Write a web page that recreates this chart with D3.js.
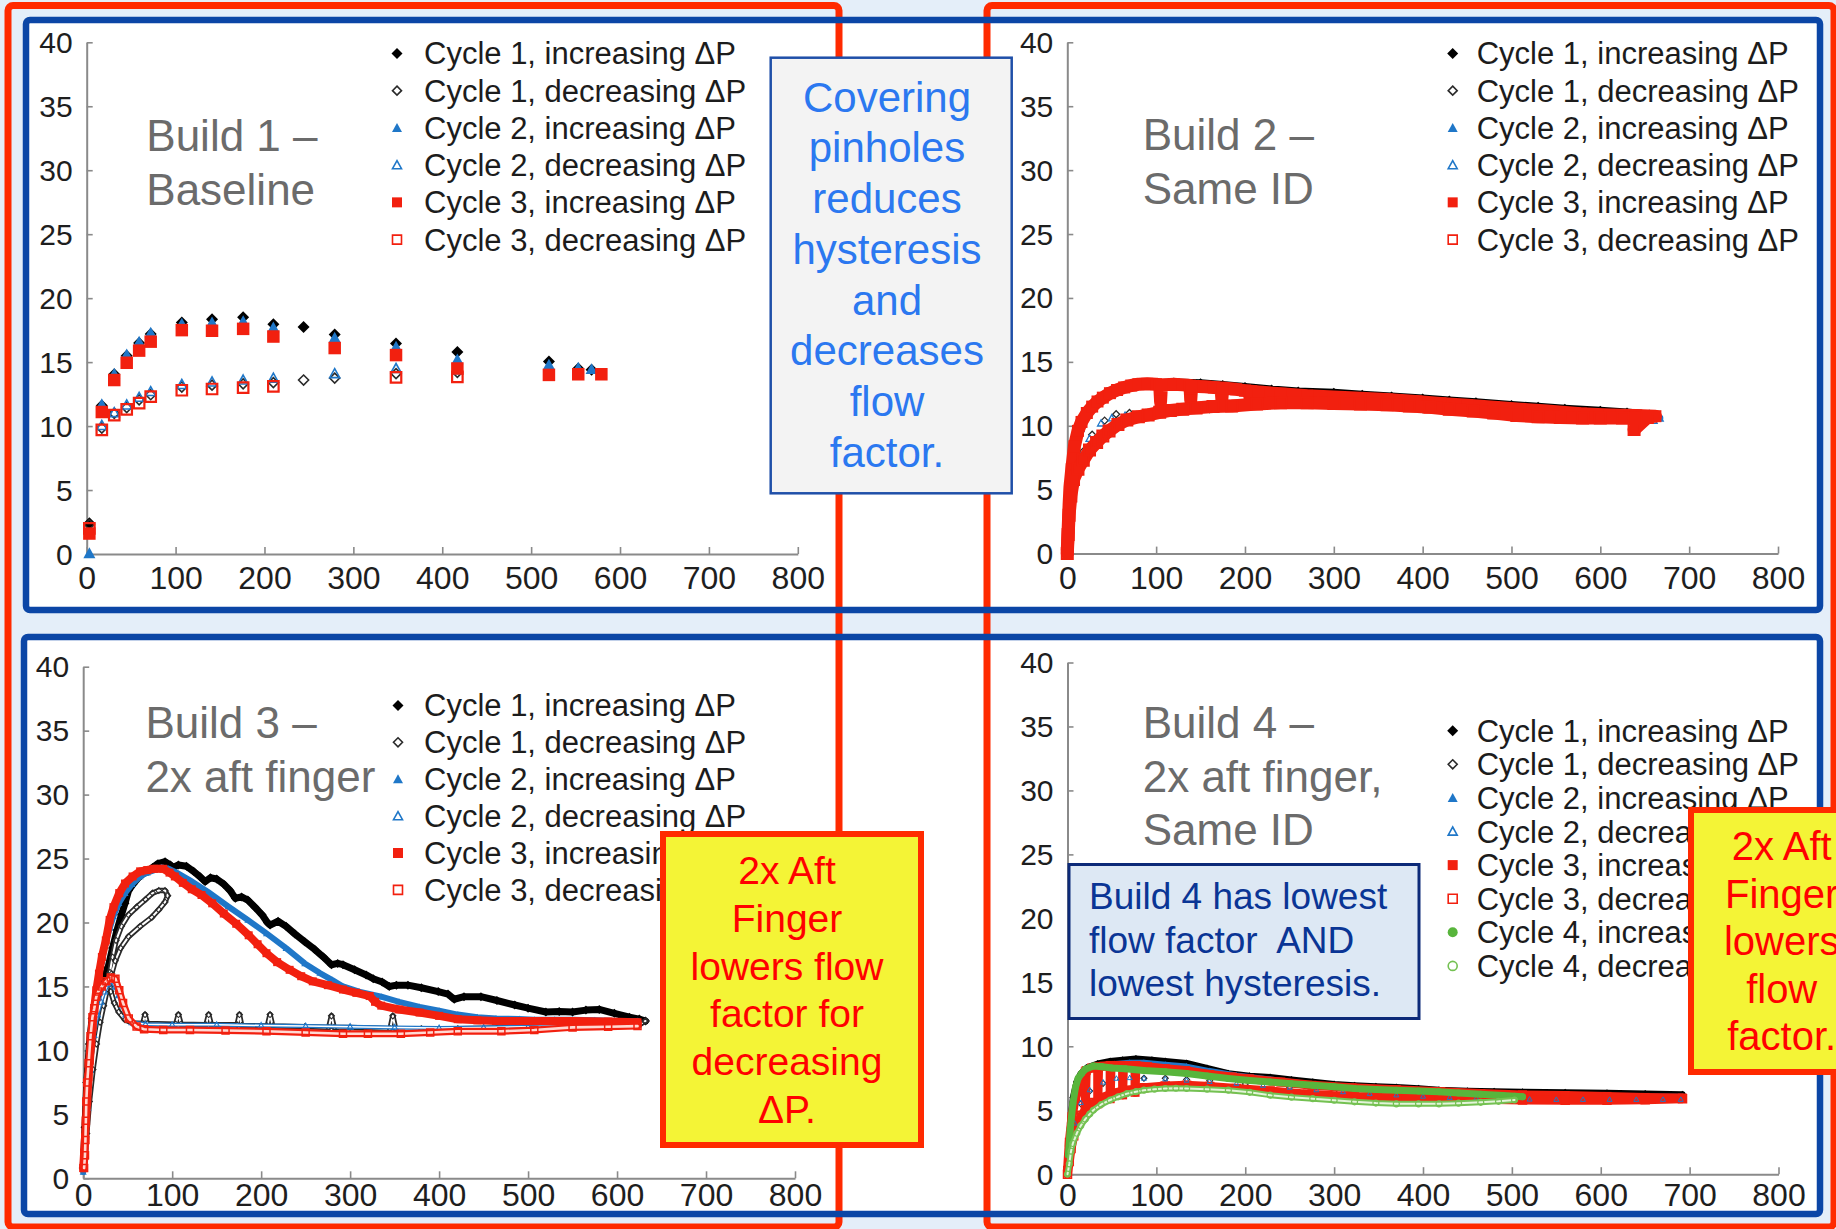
<!DOCTYPE html>
<html><head><meta charset="utf-8">
<script src="https://cdn.jsdelivr.net/npm/d3@7"></script>
<style>
html,body{margin:0;padding:0;background:#e4eef9;overflow:hidden;}
svg{display:block;font-family:"Liberation Sans",Arial,Helvetica,sans-serif;}
</style></head><body>
<svg id="c" width="1836" height="1229"></svg>
<script>
// ---------- shared labels / ticks ----------
const xTicks = [0,100,200,300,400,500,600,700,800];
const yTicks = [0,5,10,15,20,25,30,35,40];
const seriesKeys = ["c1inc","c1dec","c2inc","c2dec","c3inc","c3dec","c4inc","c4dec"];
const seriesLabels = ["Cycle 1, increasing ΔP","Cycle 1, decreasing ΔP","Cycle 2, increasing ΔP","Cycle 2, decreasing ΔP",
                      "Cycle 3, increasing ΔP","Cycle 3, decreasing ΔP","Cycle 4, increasing ΔP","Cycle 4, decreasing ΔP"];
const titles = {
  b1:["Build 1 –","Baseline"], b2:["Build 2 –","Same ID"],
  b3:["Build 3 –","2x aft finger"], b4:["Build 4 –","2x aft finger,","Same ID"]
};
const noteCovering = ["Covering","pinholes","reduces","hysteresis","and","decreases","flow","factor."];
const noteB3 = ["2x Aft","Finger","lowers flow","factor for","decreasing","ΔP."];
const noteB4 = ["2x Aft","Finger","lowers","flow","factor."];
const noteLowest = ["Build 4 has lowest","flow factor  AND","lowest hysteresis."];

// ---------- Build 1 data [ΔP, flow factor] ----------
const b1_c1inc = [[3,2.4],[17,11.6],[31,14.05],[45,15.5],[59,16.5],[72,17.2],[107,18.1],[141,18.35],[176,18.5],[210,17.95],[244,17.75],[279,17.15],[348,16.45],[417,15.8],[520,15.05],[553,14.5],[568,14.4]];
const b1_c1dec = [[3,2.3],[17,9.85],[31,11.0],[45,11.45],[59,12.05],[72,12.45],[107,13.05],[141,13.2],[176,13.3],[210,13.4],[244,13.6],[279,13.75],[348,14.1],[417,14.2]];
const b1_c2inc = [[3,0.05],[17,11.7],[31,14.1],[45,15.6],[59,16.6],[72,17.3],[107,18.0],[141,18.1],[176,18.2],[210,17.7],[279,16.9],[348,16.2],[417,15.2],[520,14.8],[553,14.55],[568,14.45]];
const b1_c2dec = [[17,10.05],[31,11.05],[45,11.65],[59,12.25],[72,12.7],[107,13.25],[141,13.45],[176,13.6],[210,13.75],[279,14.1],[348,14.5],[417,14.4]];
const b1_c3inc = [[3,1.6],[17,11.1],[31,13.6],[45,14.95],[59,15.9],[72,16.6],[107,17.5],[141,17.45],[176,17.6],[210,17.0],[279,16.1],[348,15.55],[417,14.5],[520,14.0],[553,14.05],[579,14.05]];
const b1_c3dec = [[3,2.0],[17,9.7],[31,10.85],[45,11.3],[59,11.8],[72,12.3],[107,12.8],[141,12.9],[176,13.0],[210,13.1],[348,13.8],[417,13.85]];

// ---------- Build 2 data ----------
const b2_c1inc = [[0,0.5],[2,4],[5,7],[10,9.5],[20,11.1],[30,12.0],[45,12.75],[60,13.15],[80,13.35],[100,13.45],[120,13.5],[150,13.45],[175,13.3],[200,13.15],[230,12.95],[260,12.8],[300,12.7],[332,12.55],[365,12.4],[400,12.25],[430,12.1],[460,11.95],[500,11.75],[530,11.6],[560,11.45],[600,11.3],[630,11.15],[655,11.0]];
const b2_c1dec = [[0,0],[2,2.5],[5,4.5],[10,6.6],[18,8.0],[28,9.3],[42,10.4],[55,10.9],[70,11.0],[88,10.9],[104,11.8],[120,11.1],[139,11.9],[160,11.3],[174,12.0],[190,11.4],[220,11.75],[260,11.7],[300,11.6],[350,11.5],[400,11.3],[450,11.05],[500,10.8],[550,10.7],[600,10.65],[650,10.6]];
const b2_c2inc = [[0,0.3],[3,4],[8,7.5],[15,9.8],[25,11.2],[40,12.2],[55,12.8],[75,13.1],[100,13.2],[150,13.1],[200,12.8],[260,12.5],[330,12.1],[400,11.8],[470,11.4],[540,11.0],[600,10.8],[640,10.7],[667,10.6]];
const b2_c2dec = [[0,0],[3,3.8],[8,6],[15,7.6],[25,9.0],[38,10.2],[50,10.6],[65,10.8],[80,10.8],[105,12.1],[115,11.1],[139,11.8],[150,11.3],[174,11.9],[206,11.8],[240,11.7],[280,11.65],[330,11.55],[380,11.45],[430,11.2],[480,10.9],[530,10.7],[580,10.6],[630,10.55],[660,10.4]];
const b2_c3inc = [[0,0.3],[1,2],[2,3.8],[3,5.2],[5,6.6],[8,8.4],[12,9.6],[16,10.3],[22,11.0],[28,11.5],[34,11.9],[40,12.2],[48,12.55],[56,12.8],[64,13.0],[72,13.15],[80,13.25],[90,13.28],[100,13.25],[104,13.2],[105,11.9],[106,13.2],[120,13.25],[130,13.2],[138,13.15],[139,12.0],[140,13.1],[155,13.05],[165,13.0],[173,12.95],[174,12.1],[175,12.95],[190,12.85],[200,12.75],[205,12.7],[206,12.0],[207,12.7],[215,12.65],[240,12.5],[270,12.35],[300,12.25],[330,12.15],[360,12.05],[393,11.9],[420,11.75],[450,11.6],[480,11.45],[510,11.3],[540,11.15],[578,10.95],[610,10.85],[640,10.8],[662,10.75]];
const b2_c3dec = [[0,0],[1,1.5],[2,3],[4,4.5],[7,5.8],[12,6.6],[18,7.3],[25,8.1],[33,8.7],[40,9.2],[47,9.6],[57,10.1],[67,10.45],[80,10.7],[91,10.85],[104,11.05],[116,11.2],[130,11.3],[145,11.4],[164,11.5],[185,11.55],[213,11.7],[240,11.8],[270,11.8],[300,11.75],[330,11.7],[360,11.65],[385,11.55],[408,11.45],[430,11.3],[457,11.15],[480,11.0],[506,10.8],[530,10.7],[555,10.65],[580,10.6],[600,10.6],[625,10.6],[653,10.65],[638,9.7]];

// ---------- Build 3 data ----------
const b3_c1inc = [[0,0.8],[2,4],[4,7.5],[7,10.5],[10,12.5],[14,13.8],[17,14.2],[20,15.0],[24,15.8],[28,16.5],[33,18.0],[38,19.4],[43,20.6],[47,21.5],[51,22.5],[56,23.0],[62,23.5],[67,23.8],[73,24.0],[78,24.3],[84,24.6],[92,24.75],[98,24.5],[101,24.3],[107,24.5],[116,24.4],[124,24.0],[131,23.6],[137,23.2],[143,23.5],[150,23.4],[158,23.0],[165,22.5],[171,21.9],[178,22.0],[185,21.75],[193,21.2],[201,20.6],[207,20.0],[210,19.8],[219,20.1],[228,19.7],[238,19.1],[249,18.5],[260,17.9],[270,17.3],[279,16.7],[286,16.8],[292,16.7],[305,16.3],[318,15.9],[326,15.6],[336,15.35],[344,15.0],[352,15.1],[365,15.1],[380,14.9],[399,14.6],[410,14.4],[417,14.0],[428,14.2],[447,14.2],[465,13.9],[485,13.55],[500,13.3],[520,13.0],[535,13.05],[550,13.0],[565,13.15],[580,13.2],[597,12.9],[614,12.6],[625,12.45],[632,12.3]];
const b3_c1dec = [[632,12.3],[627,12.1],[593,12.0],[550,11.95],[507,11.85],[465,11.75],[421,11.7],[380,11.7],[351,11.7],[348,12.7],[345,11.7],[300,11.8],[282,11.8],[279,12.7],[276,11.8],[249,11.85],[213,11.9],[210,12.8],[207,11.9],[178,11.95],[175.6,12.8],[173,12.0],[144,12.0],[141,12.8],[138,12.0],[110,12.05],[107,12.8],[104,12.05],[72,12.1],[69.5,12.8],[67,12.1],[55,12.15],[47,12.4],[40,13.0],[35,13.7],[31,14.6],[30,15.2],[32,16.0],[36,17.0],[42,18.0],[51,18.9],[64,19.7],[77,20.4],[85,21.0],[92,21.6],[95,22.1],[92,22.5],[85,22.5],[78,22.3],[70,21.8],[60,21.2],[51,20.6],[43,19.7],[37,18.6],[33,17.3],[30,16.1],[27,14.8],[23,13.5],[19,12.2],[15,10.5],[11,8.5],[7,6],[4,3.5],[2,1.5]];
const b3_c2inc = [[0,0.5],[3,4.5],[6,8],[10,11.5],[13,13.5],[17,15.5],[21,17],[25,18.4],[30,19.6],[34,20.5],[40,21.5],[47,22.3],[55,23.0],[64,23.6],[72,23.9],[80,24.1],[88,24.3],[96,24.2],[105,23.9],[120,23.3],[140,22.4],[163,21.25],[185,20.2],[206,19.15],[228,18.0],[249,16.8],[266,16.05],[280,15.5],[292,15.0],[310,14.6],[335,14.2],[355,13.8],[378,13.4],[400,13.1],[421,12.8],[443,12.6],[464,12.5],[490,12.45],[507,12.4],[530,12.4],[550,12.4],[575,12.35],[600,12.3],[623,12.3]];
const b3_c2dec = [[623,12.0],[580,11.95],[540,11.9],[500,11.85],[450,11.8],[400,11.75],[350,11.8],[300,11.85],[250,11.9],[200,11.95],[150,12.0],[100,12.0],[70,12.05],[55,12.2],[48,12.8],[44,13.5],[40,14.3],[36,15.0],[32,15.4],[28,15.2],[24,14.6],[20,13.8],[16,12.8],[12,11.2],[8,8.5],[5,5.5],[2,2.5],[1,1]];
const b3_c3inc = [[0,0.8],[1,2],[2,3.2],[3,4.3],[4.5,6],[6,7.9],[7.5,9.2],[9,10.5],[10.5,11.8],[12,13.1],[14.7,14.7],[17.7,16.0],[21,17.3],[25.4,18.6],[29.7,20.2],[34,21.2],[40.5,22.3],[47,23.05],[55.5,23.6],[64,24.0],[72,24.1],[80,24.2],[90,24.2],[97,23.9],[103,23.6],[112,23.1],[122,22.6],[133,22.15],[145,21.5],[158,20.7],[172,19.9],[186,19.0],[196,18.3],[206,17.6],[218,16.9],[232,16.3],[245,15.8],[258,15.4],[275,15.1],[292,14.76],[307,14.5],[322,14.25],[328,13.8],[335,13.5],[355,13.2],[378,12.96],[400,12.7],[421,12.44],[443,12.35],[464,12.3],[490,12.3],[520,12.3],[550,12.3],[590,12.25],[623,12.2]];
const b3_c3dec = [[623,11.9],[590,11.85],[550,11.8],[507,11.6],[470,11.5],[421,11.5],[390,11.4],[357,11.3],[320,11.3],[292,11.3],[250,11.4],[206,11.5],[160,11.55],[120,11.6],[90,11.6],[68.5,11.65],[60,11.86],[51.2,12.5],[44.8,13.7],[40.5,14.7],[36.2,15.6],[31,15.7],[26,15.4],[21,15.0],[17,14.6],[14.7,14.2],[12.5,13.3],[10.4,12.6],[8.2,11.1],[6.1,9.0],[4.5,7.5],[3.5,6],[3,4.5],[2.5,3],[2,1.8],[1,0.8]];

// ---------- Build 4 data ----------
const b4_c1inc = [[0,0.5],[3,4],[6,6],[10,7.2],[15,7.9],[22,8.35],[34,8.65],[48,8.85],[62,8.95],[77,9.05],[95,8.95],[110,8.85],[134,8.7],[157,8.3],[181,7.9],[205,7.7],[228,7.6],[252,7.4],[276,7.22],[300,7.05],[323,6.95],[347,6.88],[370,6.82],[395,6.72],[418,6.6],[450,6.52],[480,6.48],[512,6.45],[560,6.4],[607,6.36],[650,6.3],[692,6.25]];
const b4_c1dec = [[0,0],[3,2],[8,4],[15,5.5],[25,6.5],[40,7.1],[60,7.4],[86,7.5],[110,7.5],[134,7.4],[160,7.3],[200,7.05],[250,6.8],[300,6.5],[350,6.3],[400,6.15],[450,6.05],[500,5.95],[550,5.9],[600,5.9],[650,5.9],[692,5.95]];
const b4_c2inc = [[0,0.3],[3,3.3],[6,5.3],[10,6.8],[15,7.6],[25,8.2],[40,8.5],[53,8.65],[70,8.75],[86,8.75],[110,8.6],[134,8.45],[160,8.1],[190,7.75],[228,7.45],[276,7.05],[323,6.75],[370,6.6],[418,6.4],[465,6.3],[512,6.25],[560,6.2],[607,6.15],[650,6.1],[692,6.1]];
const b4_c2dec = [[0,0],[3,2],[8,4],[15,5.6],[25,6.6],[40,7.2],[55,7.5],[70,7.55],[86,7.5],[110,7.45],[134,7.35],[160,7.25],[190,7.1],[220,6.95],[250,6.8],[280,6.6],[310,6.45],[340,6.3],[370,6.2],[400,6.1],[430,6.0],[460,5.95],[490,5.9],[520,5.87],[550,5.85],[580,5.85],[610,5.85],[640,5.85],[670,5.85],[690,5.85]];
const b4_c3inc = [[0,0.3],[2,2.5],[5,4.5],[9,6.0],[14,7.0],[18,7.7],[20,8.0],[20,5.0],[21,8.1],[27,8.3],[34,8.35],[34,5.5],[35,8.4],[41,8.45],[48,8.5],[48,5.9],[49,8.5],[55,8.5],[62,8.5],[62,6.2],[63,8.5],[69,8.5],[76,8.5],[76,6.4],[77,8.5],[90,8.4],[110,8.25],[133,8.1],[160,7.8],[185,7.6],[205,7.45],[240,7.2],[275,6.95],[320,6.75],[370,6.6],[420,6.45],[465,6.3],[512,6.2],[560,6.15],[607,6.08],[650,6.0],[692,5.95]];
const b4_c3dec = [[0,0],[2,1.0],[4,2.0],[7,3.0],[11,3.9],[16,4.6],[22,5.2],[30,5.6],[40,6.0],[50,6.3],[65,6.55],[86,6.75],[110,6.9],[134,6.95],[160,6.85],[190,6.7],[228,6.5],[270,6.25],[323,6.05],[370,5.95],[418,5.9],[465,5.85],[512,5.8],[560,5.78],[607,5.78],[650,5.82],[692,5.9]];
const b4_c4inc = [[1,1.5],[3,3.5],[6,5.5],[9,6.8],[12,7.5],[16,7.9],[20,8.2],[29,8.45],[39,8.4],[50,8.3],[65,8.25],[86,8.1],[110,8.0],[134,7.87],[157,7.68],[181,7.48],[205,7.33],[228,7.2],[252,7.08],[276,6.96],[300,6.83],[323,6.7],[347,6.63],[370,6.57],[395,6.5],[418,6.44],[440,6.35],[465,6.25],[490,6.15],[503,6.1],[512,6.05]];
const b4_c4dec = [[0,0],[2,0.8],[4,1.8],[6,2.4],[10.5,3.2],[15,3.8],[20,4.3],[25,4.7],[29,5.0],[38,5.45],[48,5.8],[57,6.05],[67,6.3],[77,6.45],[86,6.57],[98,6.65],[110,6.7],[122,6.72],[134,6.7],[157,6.65],[181,6.57],[205,6.4],[228,6.18],[252,6.02],[276,5.9],[300,5.78],[323,5.66],[347,5.56],[370,5.5],[395,5.5],[418,5.5],[440,5.55],[465,5.62],[485,5.7],[503,5.8]];

// ---------- styles ----------
const STYLE = {
  c1inc:{shape:"diamond", color:"#000000", open:false},
  c1dec:{shape:"diamond", color:"#2a2a2a", open:true},
  c2inc:{shape:"triangle", color:"#1f77c8", open:false},
  c2dec:{shape:"triangle", color:"#1f77c8", open:true},
  c3inc:{shape:"square", color:"#f2200f", open:false},
  c3dec:{shape:"square", color:"#f2200f", open:true},
  c4inc:{shape:"circle", color:"#58b53c", open:false},
  c4dec:{shape:"circle", color:"#74c152", open:true}
};
function shapePath(t, s){
  const h = s/2;
  if (t==="diamond") return `M0,${-h}L${h},0L0,${h}L${-h},0Z`;
  if (t==="triangle") return `M0,${-h}L${h},${h*0.8}L${-h},${h*0.8}Z`;
  if (t==="square") return `M${-h},${-h}H${h}V${h}H${-h}Z`;
  return `M${h},0A${h},${h} 0 1,1 ${-h},0A${h},${h} 0 1,1 ${h},0Z`;
}

const svg = d3.select("#c");
const FONT = '"Liberation Sans",Arial,Helvetica,sans-serif';

// ---------- background & frames ----------
svg.append("rect").attr("width",1836).attr("height",1229).attr("fill","#e4eef9");
const bluePanels = [{x:26,y:20,w:1794,h:590},{x:24,y:637,w:1796,h:577}];
bluePanels.forEach(p=>svg.append("rect").attr("x",p.x).attr("y",p.y).attr("width",p.w).attr("height",p.h).attr("fill","#ffffff"));
[{x:8,y:5.5,w:831,h:1221.5},{x:987,y:5.5,w:847,h:1221.5}].forEach(p=>
  svg.append("rect").attr("x",p.x).attr("y",p.y).attr("width",p.w).attr("height",p.h).attr("rx",5)
     .attr("fill","none").attr("stroke","#ff2a00").attr("stroke-width",7));
bluePanels.forEach(p=>svg.append("rect").attr("x",p.x).attr("y",p.y).attr("width",p.w).attr("height",p.h).attr("rx",4)
     .attr("fill","none").attr("stroke","#0b46a6").attr("stroke-width",6.5));

// ---------- panel drawing ----------
function makePanel(cfg){
  const g = svg.append("g");
  const x = d3.scaleLinear().domain([0,800]).range([cfg.x0,cfg.x1]);
  const y = d3.scaleLinear().domain([0,40]).range([cfg.y0,cfg.y1]);
  const gx = g.append("g").attr("transform",`translate(0,${cfg.y0})`)
    .call(d3.axisBottom(x).tickValues(xTicks).tickSizeInner(-7).tickSizeOuter(0).tickFormat(d=>String(d)));
  const gy = g.append("g").attr("transform",`translate(${cfg.x0},0)`)
    .call(d3.axisLeft(y).tickValues(yTicks).tickSizeInner(-6).tickSizeOuter(0).tickFormat(d=>String(d)));
  [gx,gy].forEach(a=>{
    a.select(".domain").attr("stroke","#8a8a8a").attr("stroke-width",2);
    a.selectAll(".tick line").attr("stroke","#8a8a8a").attr("stroke-width",1.6);
  });
  gx.selectAll(".tick text").attr("y",cfg.xlab-cfg.y0).attr("dy",null)
    .attr("font-size",32).attr("font-family",FONT).attr("fill","#1e1e1e");
  gy.selectAll(".tick text").attr("x",-14).attr("y",10).attr("dy",null)
    .attr("font-size",30).attr("font-family",FONT).attr("fill","#1e1e1e");
  return {g,x,y};
}
function drawSeries(P, spec){
  const st = STYLE[spec.key], col = spec.color || st.color;
  const line = d3.line().x(d=>P.x(d[0])).y(d=>P.y(d[1]));
  if (spec.lw){
    P.g.append("path").attr("d",line(spec.data)).attr("fill","none").attr("stroke",col)
      .attr("stroke-width",spec.lw).attr("stroke-linejoin","round").attr("stroke-linecap","round");
    if (spec.iw) P.g.append("path").attr("d",line(spec.data)).attr("fill","none").attr("stroke",spec.ic||"#fff")
      .attr("stroke-width",spec.iw).attr("stroke-linejoin","round").attr("stroke-linecap","round");
  }
  P.g.append("g").selectAll("path").data(spec.data).join("path")
    .attr("transform",d=>`translate(${P.x(d[0])},${P.y(d[1])})`)
    .attr("d",shapePath(st.shape,spec.size))
    .attr("fill",st.open?"none":col)
    .attr("stroke",st.open?col:"none")
    .attr("stroke-width",st.open?(spec.sw||1.5):0);
}
const LEG_SIZE = {c1inc:11,c1dec:9,c2inc:10,c2dec:9,c3inc:10,c3dec:9,c4inc:10,c4dec:9};
function drawLegend(n, mx, tx, y0, dy){
  const g = svg.append("g");
  for (let i=0;i<n;i++){
    const k = seriesKeys[i], st = STYLE[k], cy = y0+dy*i;
    g.append("path").attr("transform",`translate(${mx},${cy})`).attr("d",shapePath(st.shape,LEG_SIZE[k]))
      .attr("fill",st.open?"none":st.color).attr("stroke",st.open?st.color:"none").attr("stroke-width",1.6);
    g.append("text").attr("x",tx).attr("y",cy+11).attr("font-size",31).attr("font-family",FONT)
      .attr("fill","#1c1c1c").text(seriesLabels[i]);
  }
}
function drawTitle(lines, x, baselines){
  lines.forEach((t,i)=>svg.append("text").attr("x",x).attr("y",baselines[i]).attr("font-size",44)
    .attr("font-family",FONT).attr("fill","#6b6b6b").text(t));
}

// Panel 1
const P1 = makePanel({x0:86.7,x1:797.8,y0:554,y1:42.3,xlab:588.5});
drawLegend(6,397,424,53.4,37.24);
drawTitle(titles.b1,146.3,[151,205]);
drawSeries(P1,{key:"c1inc",data:b1_c1inc,size:12});
drawSeries(P1,{key:"c1dec",data:b1_c1dec,size:10,sw:1.6});
drawSeries(P1,{key:"c2inc",data:b1_c2inc,size:12});
drawSeries(P1,{key:"c2dec",data:b1_c2dec,size:10,sw:1.6});
drawSeries(P1,{key:"c3inc",data:b1_c3inc,size:12.5});
drawSeries(P1,{key:"c3dec",data:b1_c3dec,size:10.5,sw:2.2});

// Panel 2
const P2 = makePanel({x0:1067.3,x1:1778,y0:553.6,y1:42.3,xlab:589});
drawLegend(6,1452.7,1476.7,53.4,37.24);
drawTitle(titles.b2,1142.7,[150.3,203.6]);
drawSeries(P2,{key:"c1inc",data:b2_c1inc,size:7,lw:5});
drawSeries(P2,{key:"c1dec",data:b2_c1dec,size:7,sw:1.3});
drawSeries(P2,{key:"c2inc",data:b2_c2inc,size:9,lw:7});
drawSeries(P2,{key:"c2dec",data:b2_c2dec,size:7,sw:1.3});
drawSeries(P2,{key:"c3inc",data:b2_c3inc,size:12,lw:13});
drawSeries(P2,{key:"c3dec",data:b2_c3dec,size:11,lw:13,sw:2});

// Panel 3
const P3 = makePanel({x0:83.2,x1:795,y0:1178.3,y1:666.7,xlab:1206});
drawLegend(6,398,424,705.4,36.9);
drawTitle(titles.b3,145.4,[738.4,792]);
drawSeries(P3,{key:"c1inc",data:b3_c1inc,size:9,lw:7});
drawSeries(P3,{key:"c1dec",data:b3_c1dec,size:6,lw:5.5,iw:2,sw:1.1});
drawSeries(P3,{key:"c2inc",data:b3_c2inc,size:7,lw:6});
drawSeries(P3,{key:"c2dec",data:b3_c2dec,size:6,lw:4,iw:1.5,sw:1.1});
drawSeries(P3,{key:"c3inc",data:b3_c3inc,size:8,lw:8});
drawSeries(P3,{key:"c3dec",data:b3_c3dec,size:7,lw:7,iw:2.6,ic:"#ffd8d2",sw:1.5});

// Panel 4
const P4 = makePanel({x0:1067.5,x1:1778.5,y0:1174.2,y1:662.5,xlab:1206.5});
drawLegend(8,1452.7,1476.7,730.7,33.6);
drawTitle(titles.b4,1142.7,[738.4,791.5,845]);
drawSeries(P4,{key:"c1inc",data:b4_c1inc,size:7,lw:6});
drawSeries(P4,{key:"c1dec",data:b4_c1dec,size:6,sw:1.1});
drawSeries(P4,{key:"c2inc",data:b4_c2inc,size:6,lw:5});
drawSeries(P4,{key:"c3inc",data:b4_c3inc,size:9,lw:9});
drawSeries(P4,{key:"c3dec",data:b4_c3dec,size:8,lw:9,sw:1.5});
drawSeries(P4,{key:"c2dec",data:b4_c2dec,size:5,sw:1});
drawSeries(P4,{key:"c4inc",data:b4_c4inc,size:7,lw:7});
drawSeries(P4,{key:"c4dec",data:b4_c4dec,size:6,lw:6,iw:2,ic:"#e3f4d9",sw:1.2});

// ---------- annotation boxes ----------
function box(x,y,w,h,fill,stroke,sw){
  svg.append("rect").attr("x",x).attr("y",y).attr("width",w).attr("height",h)
    .attr("fill",fill).attr("stroke",stroke).attr("stroke-width",sw);
}
function lines(arr, x, b0, dy, size, color, anchor){
  arr.forEach((t,i)=>svg.append("text").attr("x",x).attr("y",b0+dy*i).attr("font-size",size)
    .attr("font-family",FONT).attr("fill",color).attr("text-anchor",anchor)
    .style("white-space","pre").text(t));
}
box(770.7,57.7,241,435.6,"#f3f3f3","#1f4fa8",2.5);
lines(noteCovering,887,111.7,50.7,42,"#2b78f0","middle");

box(663,834,258,311,"#f4f436","#ff2a00",6);
lines(noteB3,787,884,47.8,39,"#ff0000","middle");

box(1691,810,200,262,"#f4f436","#ff2a00",6);
lines(noteB4,1781.7,860,47.5,40,"#ff0000","middle");

box(1069,864.5,350,154,"#dde8f4","#0c2a78",3);
lines(noteLowest,1089,909,43.5,37,"#0a3595","start");
</script>
</body></html>
